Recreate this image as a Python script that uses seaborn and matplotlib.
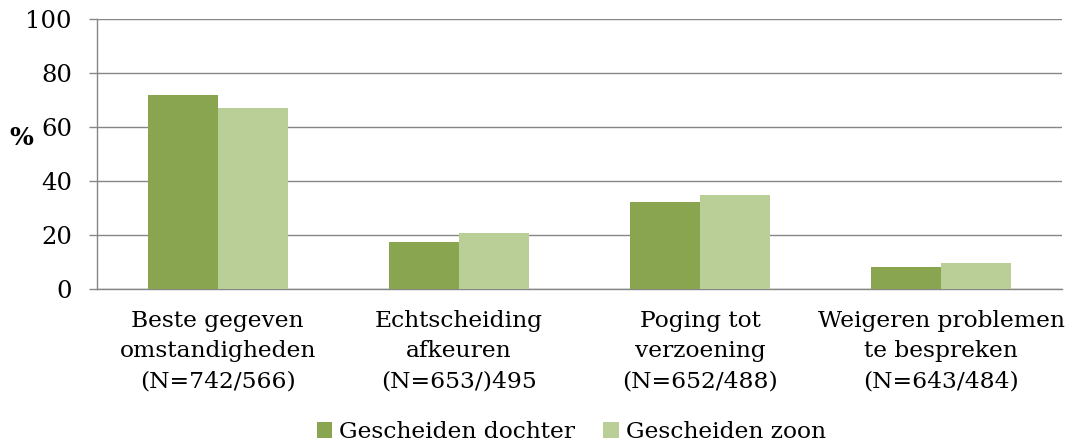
import matplotlib
matplotlib.use("Agg")
import matplotlib.pyplot as plt
import seaborn as sns
import pandas as pd
import numpy as np

categories = [
    "Beste gegeven\nomstandigheden\n(N=742/566)",
    "Echtscheiding\nafkeuren\n(N=653/)495",
    "Poging tot\nverzoening\n(N=652/488)",
    "Weigeren problemen\nte bespreken\n(N=643/484)",
]
series_names = ["Gescheiden dochter", "Gescheiden zoon"]
dochter = [72.0, 17.5, 32.2, 8.1]
zoon = [67.2, 20.7, 34.7, 9.5]
y_ticks = [0, 20, 40, 60, 80, 100]
colors = ["#8AA550", "#B9CF97"]

df = pd.DataFrame({
    "cat": categories * 2,
    "series": [series_names[0]] * 4 + [series_names[1]] * 4,
    "val": dochter + zoon,
})

sns.set_style("white")
plt.rcParams["font.family"] = ["DejaVu Serif"]
plt.rcParams["text.color"] = "black"
plt.rcParams["xtick.color"] = "black"
plt.rcParams["ytick.color"] = "black"
plt.rcParams["axes.labelcolor"] = "black"
FS = 16.8

fig = plt.figure(figsize=(10.74, 4.47), dpi=100)
ax = fig.add_axes([97/1074, 1 - 289/447, (1062 - 97)/1074, (289 - 19)/447])

sns.barplot(data=df, x="cat", y="val", hue="series", palette=colors,
            width=0.58, gap=0, linewidth=0, saturation=1, ax=ax, zorder=3)

gc = "#868686"
ax.set_ylim(0, 100)
ax.set_xlim(-0.5, 3.5)
ax.set_yticks(y_ticks)
ax.set_yticklabels([str(v) for v in y_ticks], fontsize=17.5)
ax.yaxis.grid(True, color=gc, linewidth=1.0, zorder=0)
ax.set_axisbelow(True)

ax.set_xticks(range(len(categories)))
ax.set_xticklabels(categories, fontsize=FS, linespacing=1.5)
ax.tick_params(axis="x", which="major", length=0, pad=15)
ax.set_xticks(np.arange(-0.5, 4.0, 1.0), minor=True)
ax.tick_params(axis="x", which="minor", length=6, color=gc, width=1.0)
ax.tick_params(axis="y", length=6, color=gc, labelcolor="black", width=1.0, pad=12, left=True)
ax.tick_params(axis="x", labelcolor="black")

for s in ["top", "right"]:
    ax.spines[s].set_visible(False)
for s in ["left", "bottom"]:
    ax.spines[s].set_color(gc)
    ax.spines[s].set_linewidth(1.0)

ax.set_xlabel("")
ax.set_ylabel("%", fontsize=18, fontweight="bold", rotation=0, labelpad=0,
              va="center", ha="center", color="black")
ax.yaxis.set_label_coords(-0.078, 0.559)

handles, labels = ax.get_legend_handles_labels()
leg = ax.legend(handles, labels, loc="center", ncol=2, frameon=False, fontsize=FS,
                handlelength=0.65, handleheight=0.65, handletextpad=0.3,
                columnspacing=1.2, borderaxespad=0)
leg.set_bbox_to_anchor((0.532, 1 - 432/447), transform=fig.transFigure)
for t in leg.get_texts():
    t.set_color("black")

fig.savefig("out.png", dpi=100)
